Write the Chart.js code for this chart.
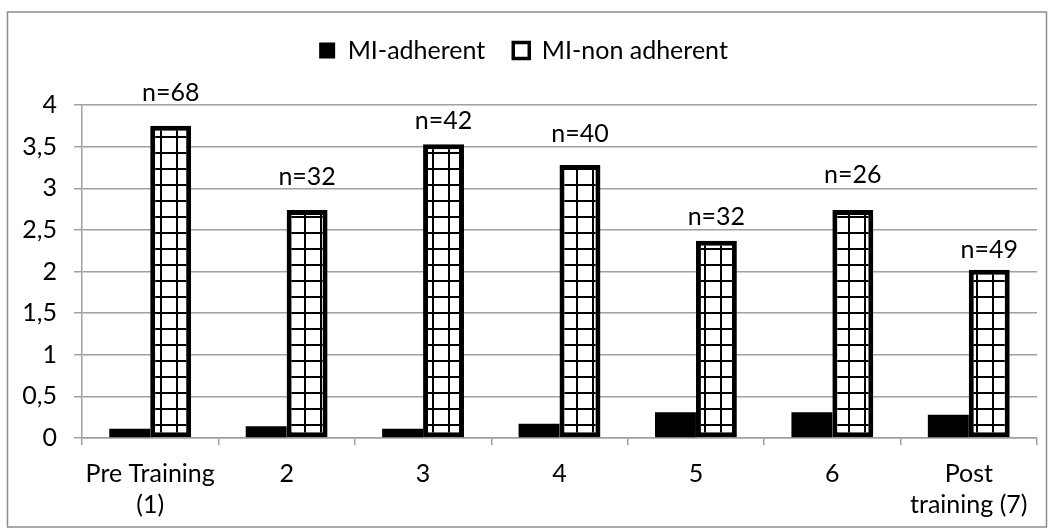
<!DOCTYPE html>
<html>
<head>
<meta charset="utf-8">
<script src="https://cdn.jsdelivr.net/npm/chart.js@4/dist/chart.umd.min.js"></script>
<style>
  html, body { margin: 0; padding: 0; background: #fff; }
  #wrap { width: 1054px; height: 531px; }
</style>
</head>
<body>
<div id="wrap"><canvas id="chart" width="1054" height="531"></canvas></div>
<script>
    "use strict";

    // categories along the x axis
    const categories = [["Pre Training", "(1)"], "2", "3", "4", "5", "6", ["Post", "training (7)"]];
    const seriesNames = ["MI-adherent", "MI-non adherent"];
    // values
    const adherent = [0.11, 0.14, 0.11, 0.17, 0.31, 0.31, 0.28];
    const nonAdherent = [3.75, 2.74, 3.53, 3.28, 2.37, 2.74, 2.02];
    const sampleLabels = ["n=68", "n=32", "n=42", "n=40", "n=32", "n=26", "n=49"];
    const yTicks = { min: 0, max: 4, step: 0.5 };

    // how far each n= label sits above its bar (px, placed by hand in the original)
    const labelLift = [25, 25, 15, 23, 16, 27, 12];

    const GRID = "#a0a0a0";
    const FONT = "Lato";
    const SIZE = 25;

    function gridPattern() {
        const c = document.createElement("canvas");
        c.width = 16; c.height = 16;
        const g = c.getContext("2d");
        g.fillStyle = "#fff";
        g.fillRect(0, 0, 16, 16);
        g.fillStyle = "#000";
        g.fillRect(0, 0, 2, 16);
        g.fillRect(0, 0, 16, 2);
        const p = g.createPattern(c, "repeat");
        if (p.setTransform) { p.setTransform(new DOMMatrix().translate(0, 8)); }
        return p;
    }

    const frame = {
        id: "frame",
        beforeDraw(chart) {
            const ctx = chart.ctx;
            ctx.save();
            ctx.fillStyle = "#fff";
            ctx.fillRect(0, 0, chart.width, chart.height);
            ctx.strokeStyle = "#8c8c8c";
            ctx.lineWidth = 1.5;
            ctx.strokeRect(7.5, 12, 1039, 515);
            ctx.restore();
        },
    };

    const legendHeight = {
        id: "legendHeight",
        beforeLayout(chart) {
            const lg = chart.legend;
            if (!lg || lg._patched) { return; }
            const fit = lg.fit;
            lg.fit = function () { fit.call(this); this.height = 95; };
            lg._patched = true;
        },
    };

    const nLabels = {
        id: "nLabels",
        afterDatasetsDraw(chart) {
            const ctx = chart.ctx;
            const meta = chart.getDatasetMeta(1);
            ctx.save();
            ctx.font = SIZE + "px " + FONT;
            ctx.fillStyle = "#000";
            ctx.textAlign = "center";
            ctx.textBaseline = "alphabetic";
            meta.data.forEach((bar, i) => {
                ctx.fillText(sampleLabels[i], bar.x, bar.y - labelLift[i]);
            });
            ctx.restore();
        },
    };

    Chart.defaults.font.family = FONT;
    Chart.defaults.font.size = SIZE;
    Chart.defaults.color = "#000";

    new Chart(document.getElementById("chart"), {
        type: "bar",
        data: {
            labels: categories,
            datasets: [{
                label: seriesNames[0],
                data: adherent,
                backgroundColor: "#000",
                borderWidth: 0,
            }, {
                label: seriesNames[1],
                data: nonAdherent,
                backgroundColor: gridPattern(),
                borderColor: "#000",
                borderWidth: 5,
                borderSkipped: false,
            }],
        },
        options: {
            responsive: false,
            animation: false,
            events: [],
            categoryPercentage: 0.6,
            barPercentage: 1.0,
            layout: { padding: { left: 10, right: 17, top: 10, bottom: 0 } },
            plugins: {
                legend: {
                    position: "top",
                    labels: {
                        boxWidth: 16,
                        boxHeight: 16,
                        padding: 28,
                        font: { size: SIZE, family: FONT },
                        generateLabels(chart) {
                            return chart.data.datasets.map((ds, i) => ({
                                text: ds.label,
                                datasetIndex: i,
                                fillStyle: i === 0 ? "#000" : "#fff",
                                strokeStyle: "#000",
                                lineWidth: i === 0 ? 0 : 3.5,
                                hidden: false,
                            }));
                        },
                    },
                },
                tooltip: { enabled: false },
            },
            scales: {
                x: {
                    grid: { color: GRID, lineWidth: 1.5, drawOnChartArea: false, tickLength: 7 },
                    border: { color: GRID, width: 1.5 },
                    ticks: { padding: 13, font: { size: SIZE, lineHeight: 1.24 } },
                    afterFit(s) { s.height = 93; },
                },
                y: {
                    min: yTicks.min,
                    max: yTicks.max,
                    grid: { color: GRID, lineWidth: 1.5, tickLength: 8 },
                    border: { color: GRID, width: 1.5 },
                    ticks: {
                        stepSize: yTicks.step,
                        padding: 17,
                        callback: v => String(v).replace(".", ","),
                    },
                    afterFit(s) { s.width = 72; },
                },
            },
        },
        plugins: [frame, legendHeight, nLabels],
    });
</script>
</body>
</html>
